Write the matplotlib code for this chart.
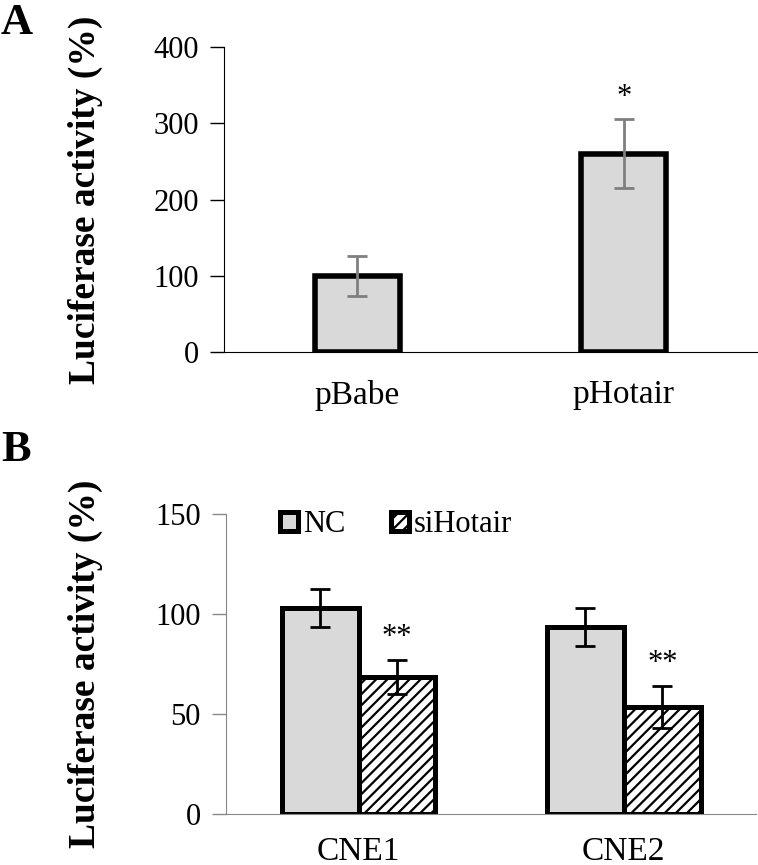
import matplotlib
matplotlib.use('Agg')
import numpy as np
import matplotlib.pyplot as plt

# Panel A data
a_groups = ['pBabe', 'pHotair']
a_values = [100, 260]
a_errors = [26, 45]
a_marks = ['', '*']

# Panel B data
b_groups = ['CNE1', 'CNE2']
b_series = ['NC', 'siHotair']
b_nc = [103, 93.5]
b_nc_err = [9.5, 9.5]
b_si = [68.5, 53.5]
b_si_err = [8.5, 10.5]
b_marks = ['**', '**']

plt.rcParams['font.family'] = ['Liberation Serif', 'DejaVu Serif']
plt.rcParams['hatch.linewidth'] = 1.6

fig = plt.figure(figsize=(7.58, 8.65), dpi=100)

# ---- Panel A
ax_a = fig.add_axes([0.2955, 0.593, 0.703, 0.3527])
xa = np.arange(len(a_groups))
ax_a.bar(xa, a_values, width=0.32, color='#d9d9d9', edgecolor='black', linewidth=4, zorder=2)
ax_a.errorbar(xa, a_values, yerr=a_errors, fmt='none', ecolor='#7f7f7f',
              elinewidth=2, capsize=7, capthick=2, zorder=3)
for x, v, e, m in zip(xa, a_values, a_errors, a_marks):
    if m:
        ax_a.text(x, v + e + 10, m, ha='center', va='bottom', fontsize=22)

ax_a.set_xlim(-0.5, 1.5)
ax_a.set_ylim(0, 400)
ax_a.set_yticks([0, 100, 200, 300, 400])
ax_a.set_xticks(xa)
ax_a.set_xticklabels(a_groups, fontsize=24)
ax_a.tick_params(axis='x', length=0, pad=20)
ax_a.tick_params(axis='y', labelsize=22, length=10, width=1, pad=8)
ax_a.spines['top'].set_visible(False)
ax_a.spines['right'].set_visible(False)
ax_a.set_ylabel('Luciferase activity (%)', fontsize=27, fontweight='bold')
ax_a.yaxis.set_label_coords(-0.227, 0.5)

# ---- Panel B
ax_b = fig.add_axes([0.298, 0.059, 0.700, 0.347])
xb = np.arange(len(b_groups))
w = 0.29
ax_b.bar(xb - w / 2, b_nc, width=w, color='#d9d9d9', edgecolor='black', linewidth=3.6,
         label=b_series[0], zorder=2)
ax_b.bar(xb + w / 2, b_si, width=w, color='white', edgecolor='black', linewidth=3.6,
         hatch='///', label=b_series[1], zorder=2)
ax_b.errorbar(xb - w / 2, b_nc, yerr=b_nc_err, fmt='none', ecolor='black',
              elinewidth=2, capsize=7, capthick=2, zorder=3)
ax_b.errorbar(xb + w / 2, b_si, yerr=b_si_err, fmt='none', ecolor='black',
              elinewidth=2, capsize=7, capthick=2, zorder=3)
for x, v, e, m in zip(xb, b_si, b_si_err, b_marks):
    ax_b.text(x + w / 2, v + e + 4, m, ha='center', va='bottom', fontsize=22)

ax_b.set_xlim(-0.5, 1.5)
ax_b.set_ylim(0, 150)
ax_b.set_yticks([0, 50, 100, 150])
ax_b.set_xticks(xb)
ax_b.set_xticklabels(b_groups, fontsize=24)
ax_b.tick_params(axis='x', length=0, pad=16)
ax_b.tick_params(axis='y', labelsize=22, length=10, width=1, color='#888888', pad=8)
for s in ['top', 'right']:
    ax_b.spines[s].set_visible(False)
for s in ['left', 'bottom']:
    ax_b.spines[s].set_color('#888888')
ax_b.set_ylabel('Luciferase activity (%)', fontsize=27, fontweight='bold')
ax_b.yaxis.set_label_coords(-0.232, 0.5)
ax_b.legend(loc='upper left', bbox_to_anchor=(0.102, 1.012), ncol=2, frameon=False,
            fontsize=22, handlelength=0.6, handleheight=0.6, handletextpad=0.15,
            columnspacing=1.5, borderaxespad=0, borderpad=0)

# Panel letters
fig.text(0.001, 0.997, 'A', fontsize=32, fontweight='bold', va='top', ha='left')
fig.text(0.001, 0.503, 'B', fontsize=32, fontweight='bold', va='top', ha='left')

fig.savefig('out.png', dpi=100)
